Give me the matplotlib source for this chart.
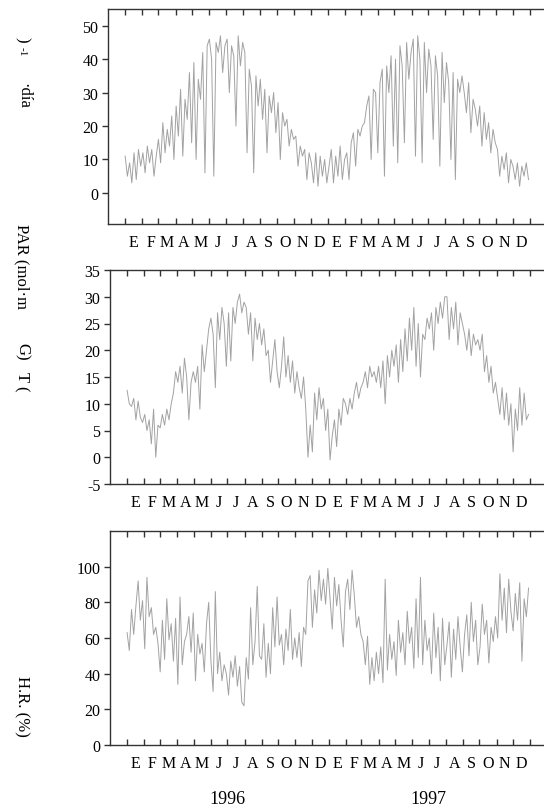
import numpy as np
import pandas as pd
import matplotlib
matplotlib.use("Agg")
import matplotlib.pyplot as plt
import matplotlib.dates as mdates
import matplotlib.transforms as mtransforms

plt.rcParams["font.family"] = ["Liberation Serif", "DejaVu Serif"]
plt.rcParams["axes.unicode_minus"] = False

# one reading every 4 days, 1 Jan 1996 to 28 Dec 1997
par = [
    11, 5, 9, 3, 12, 4, 13, 8,            # E 96
    12, 6, 14, 9, 13, 5, 11,              # F
    16, 9, 21, 12, 19, 14, 23, 10,        # M
    26, 17, 31, 11, 28, 22, 36, 15,       # A
    39, 10, 34, 28, 42, 6, 44,            # M
    46, 40, 5, 45, 42, 47, 36, 44,        # J
    46, 30, 44, 41, 20, 47, 38, 45,       # J
    42, 12, 37, 32, 6, 35, 26,            # A
    34, 22, 31, 12, 29, 24, 30, 18,       # S
    27, 10, 24, 20, 22, 14, 19, 16,       # O
    17, 8, 14, 11, 13, 4, 12,             # N
    9, 3, 12, 2, 11, 5, 10, 3,            # D
    8, 13, 3, 11, 5, 14, 4, 10,           # E 97
    12, 4, 15, 18, 8, 19, 17,             # F
    20, 21, 26, 29, 10, 31, 30,           # M
    12, 33, 37, 5, 38, 30, 41, 14,        # A
    40, 9, 44, 38, 15, 45, 34, 42,        # M
    46, 11, 47, 40, 9, 45, 30,            # J
    43, 38, 16, 41, 35, 8, 42, 27,        # J
    39, 33, 10, 36, 4, 34, 30, 35,        # A
    30, 24, 33, 18, 28, 25, 20,           # S
    26, 14, 24, 16, 21, 12, 19, 15,       # O
    13, 5, 11, 7, 12, 3, 10,              # N
    8, 4, 9, 2, 8, 5, 9, 4,               # D
]

temp = [
    12.5, 10, 9.5, 11, 7, 10.5, 7.5, 6.5,
    8, 5, 7, 2.5, 9, 0, 6,
    5.5, 8, 6, 9, 7, 10, 12, 16,
    14, 17, 12, 18.5, 15, 7, 14, 16,
    14, 17, 9, 21, 16, 20, 24,
    26, 23, 13, 27, 22, 28, 25, 17,
    27, 18, 28, 25, 29, 30.5, 27, 29,
    28, 23, 27, 18, 26, 22, 25,
    21, 24, 19, 20, 14, 18, 22, 16,
    13, 17, 22.5, 15, 19, 14, 18, 12,
    16, 13, 11, 15, 9, 0, 6,
    1, 12, 7, 13, 9, 11, 5, 9,
    -0.5, 4, 7, 2, 9, 6, 11, 10,
    8, 11, 9, 12, 14, 11, 13,
    14, 16, 13, 17, 15, 16, 14,
    17, 13, 18, 10, 19, 15, 20, 17,
    21, 14, 22, 16, 24, 18, 26, 20,
    28, 17, 25, 15, 23, 22, 26,
    24, 27, 20, 28, 25, 29, 26, 30,
    30, 22, 28, 24, 29, 21, 27, 25,
    23, 20, 24, 19, 23, 21, 22,
    20, 23, 16, 19, 14, 17, 12, 14,
    11, 8, 13, 7, 12, 6, 10,
    1, 9, 5, 13, 6, 12, 7, 8,
]

hr = [
    63, 53, 76, 62, 78, 92, 70, 81,
    54, 94, 72, 77, 62, 66, 57,
    41, 70, 48, 82, 59, 68, 47, 71,
    34, 83, 45, 58, 62, 72, 52, 74,
    36, 62, 51, 57, 41, 68, 80,
    47, 30, 86, 40, 52, 36, 45, 40,
    28, 47, 38, 50, 33, 44, 24, 22,
    49, 37, 77, 45, 58, 89, 50,
    48, 68, 38, 57, 40, 77, 55, 83,
    56, 62, 45, 65, 53, 76, 48, 60,
    49, 63, 44, 66, 62, 92, 95,
    66, 87, 74, 98, 81, 93, 79, 99,
    82, 65, 94, 78, 90, 70, 55, 86,
    93, 76, 98, 84, 66, 72, 62,
    58, 45, 61, 34, 49, 36, 52,
    40, 55, 35, 93, 42, 62, 48, 58,
    39, 70, 52, 63, 45, 75, 57, 66,
    43, 82, 49, 94, 45, 70, 53,
    60, 40, 74, 49, 66, 36, 71, 45,
    56, 69, 38, 65, 48, 72, 55, 41,
    62, 73, 50, 80, 58, 70, 45,
    55, 79, 62, 70, 46, 66, 58, 72,
    60, 96, 70, 88, 63, 93, 75,
    64, 85, 70, 91, 47, 82, 72, 88,
]

month_letters = ["E", "F", "M", "A", "M", "J", "J", "A", "S", "O", "N", "D"]
years = ["1996", "1997"]

dates = pd.date_range("1996-01-01", periods=len(par), freq="4D")
month_starts = pd.date_range("1996-01-01", "1998-01-01", freq="MS")
month_mids = month_starts[:-1] + pd.Timedelta(days=15)

fig = plt.figure(figsize=(5.44, 8.12), dpi=100)
W, H = 544, 812
boxes = [(108, 10, 225), (110, 271, 485), (110, 532, 746)]
series = [par, temp, hr]
ylims = [(-9.3, 55), (-5, 35), (0, 120)]
yticks = [np.arange(0, 51, 10), np.arange(-5, 36, 5), np.arange(0, 101, 20)]

axes = []
for (x0, top, bot), vals, yl, yt in zip(boxes, series, ylims, yticks):
    ax = fig.add_axes([x0 / W, 1 - bot / H, (W - x0) / W, (bot - top) / H])
    ax.plot(dates, vals, color="#a2a2a2", lw=0.7)
    ax.set_xlim(pd.Timestamp("1995-12-01"), pd.Timestamp("1998-01-26"))
    ax.set_ylim(*yl)
    ax.set_yticks(yt)
    ax.spines["right"].set_visible(False)
    for s in ["left", "top", "bottom"]:
        ax.spines[s].set_color("#333333")
        ax.spines[s].set_linewidth(1.0)
    ax.set_xticks(month_starts)
    ax.set_xticklabels([])
    ax.set_xticks(month_mids, minor=True)
    ax.set_xticklabels(month_letters * 2, minor=True)
    ax.tick_params(axis="x", which="major", direction="in", top=True, bottom=True,
                   length=4, width=1, color="#333333")
    ax.tick_params(axis="x", which="minor", length=0, pad=7, labelsize=11.5)
    ax.tick_params(axis="y", direction="out", length=4, width=1, color="#333333",
                   labelsize=11.5, pad=3)
    axes.append(ax)

# year labels under the last panel
trans = mtransforms.blended_transform_factory(axes[2].transData, axes[2].transAxes)
for yr in years:
    axes[2].text(pd.Timestamp(yr + "-07-01"), -0.25, yr, transform=trans,
                 ha="center", va="center", fontsize=13)

# y labels, rotated as in the original figure
lab = dict(rotation=270, ha="center", va="center", fontsize=12)
fig.text(22 / W, 1 - 40 / H, ")", **lab)
fig.text(22 / W, 1 - 52 / H, "-1", rotation=270, ha="center", va="center", fontsize=8)
fig.text(23 / W, 1 - 96 / H, "·día", **lab)
fig.text(22 / W, 1 - 266 / H, "PAR (mol·m", **lab)
fig.text(22 / W, 1 - 352 / H, "G)", **lab)
fig.text(22 / W, 1 - 382 / H, "T (", **lab)
fig.text(22 / W, 1 - 706 / H, "H.R. (%)", **lab)

fig.savefig("out.png", dpi=100)
